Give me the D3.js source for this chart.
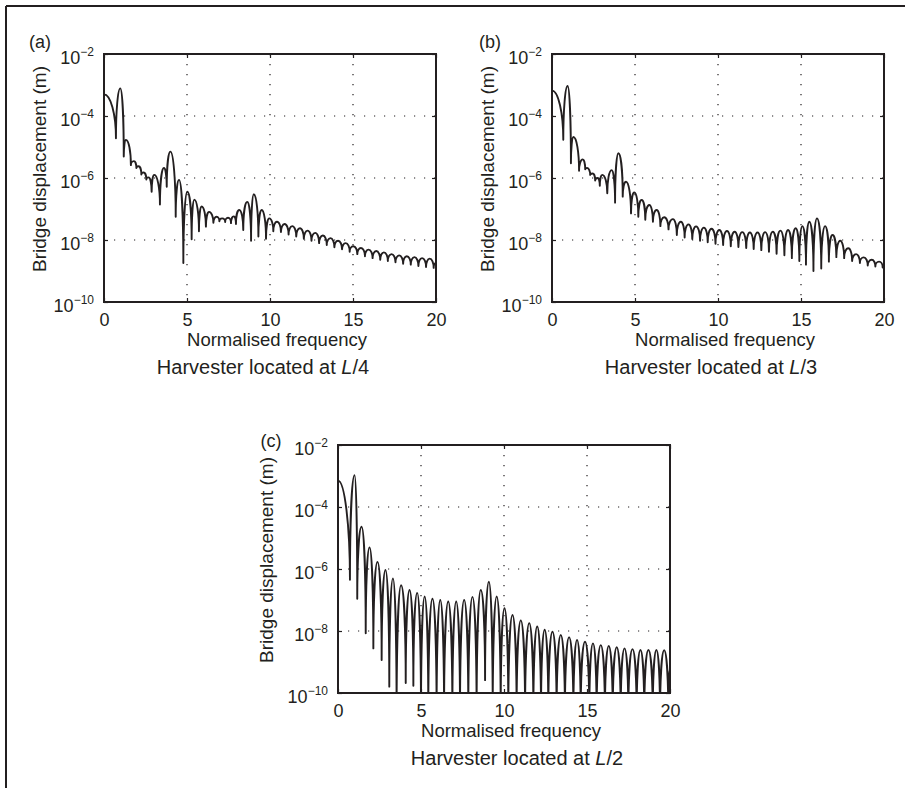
<!DOCTYPE html>
<html>
<head>
<meta charset="utf-8">
<script src="https://cdn.jsdelivr.net/npm/d3@7"></script>
<style>
  body { margin: 0; background: #fff; }
  svg { font-family: "Liberation Sans", Arial, Helvetica, sans-serif; }
</style>
</head>
<body>
<svg id="fig" width="905" height="788"></svg>
<script>
// axis ticks
var freqTicks = [0, 5, 10, 15, 20];
var decadeTicks = [1e-10, 1e-8, 1e-6, 1e-4, 1e-2];
var gridFreq = [5, 10, 15];
var gridDecades = [1e-8, 1e-6, 1e-4];

// (a) harvester at L/4 : local maxima and minima of the spectrum
var aPeakFreq = [0, 0.98, 1.32, 1.80, 2.08, 2.38, 2.68, 3.03, 3.61, 4.00,
  4.52, 5.02, 5.44, 5.88, 6.33, 6.79, 7.12, 7.47, 7.82, 8.15,
  8.63, 9.02, 9.50, 9.96, 10.42, 10.88, 11.34, 11.80, 12.26, 12.72,
  13.18, 13.64, 14.10, 14.56, 15.02, 15.48, 15.94, 16.40, 16.86, 17.32,
  17.78, 18.24, 18.70, 19.16, 19.62, 20.0];
var aPeakDisp = [5.0e-4, 7.8e-4, 1.7e-5, 3.5e-6, 2.4e-6, 1.5e-6, 1.05e-6, 1.26e-6, 2.1e-6, 7.1e-6,
  8.7e-7, 3.6e-7, 2.0e-7, 1.2e-7, 8.1e-8, 5.6e-8, 5.0e-8, 5.2e-8, 5.8e-8, 9.3e-8,
  1.7e-7, 3.0e-7, 9.3e-8, 5.0e-8, 3.9e-8, 3.3e-8, 2.8e-8, 2.4e-8, 2.0e-8, 1.7e-8,
  1.4e-8, 1.15e-8, 9.5e-9, 7.9e-9, 6.3e-9, 5.5e-9, 4.9e-9, 4.4e-9, 4.0e-9, 3.5e-9,
  3.2e-9, 3.0e-9, 2.8e-9, 2.6e-9, 2.5e-9, 1.8e-9];
var aDipFreq = [0.72, 1.19, 1.62, 1.95, 2.25, 2.55, 2.87, 3.37, 3.78,
  4.32, 4.78, 5.28, 5.72, 6.14, 6.59, 6.95, 7.30, 7.65, 7.95,
  8.39, 8.86, 9.30, 9.76, 10.20, 10.66, 11.12, 11.58, 12.04, 12.50,
  12.96, 13.42, 13.88, 14.34, 14.80, 15.26, 15.72, 16.18, 16.64, 17.10,
  17.56, 18.02, 18.48, 18.94, 19.40, 19.86];
var aDipDisp = [1.9e-5, 4.9e-6, 2.6e-6, 2.1e-6, 1.3e-6, 8.9e-7, 3.6e-7, 1.4e-7, 5.2e-7,
  5.6e-8, 1.8e-9, 1.05e-8, 1.9e-8, 2.7e-8, 3.6e-8, 4.0e-8, 3.8e-8, 3.5e-8, 3.3e-8,
  2.1e-8, 9.5e-9, 1.3e-8, 1.1e-8, 1.9e-8, 1.8e-8, 1.5e-8, 1.3e-8, 1.1e-8, 9.5e-9,
  7.9e-9, 6.9e-9, 5.8e-9, 5.0e-9, 4.2e-9, 3.5e-9, 3.0e-9, 2.6e-9, 2.3e-9, 2.1e-9,
  1.9e-9, 1.7e-9, 1.6e-9, 1.45e-9, 1.35e-9, 1.26e-9];

// (b) harvester at L/3
var bPeakFreq = [0, 0.94, 1.29, 1.85, 2.12, 2.44, 2.75, 3.03, 3.59, 4.00,
  4.46, 4.96, 5.40, 5.86, 6.30, 6.76, 7.28, 7.76, 8.22, 8.68,
  9.15, 9.61, 10.08, 10.54, 11.00, 11.46, 11.92, 12.38, 12.84, 13.30,
  13.76, 14.22, 14.68, 15.08, 15.50, 15.96, 16.45, 16.90, 17.36, 17.85,
  18.32, 18.78, 19.26, 19.70, 20.0];
var bPeakDisp = [6.6e-4, 9.3e-4, 2.1e-5, 4.0e-6, 2.1e-6, 1.4e-6, 1.0e-6, 1.26e-6, 1.8e-6, 6.3e-6,
  7.6e-7, 3.4e-7, 1.95e-7, 1.35e-7, 9.3e-8, 5.4e-8, 4.7e-8, 3.9e-8, 3.2e-8, 2.75e-8,
  2.5e-8, 2.3e-8, 2.1e-8, 1.95e-8, 1.85e-8, 1.8e-8, 1.75e-8, 1.75e-8, 1.8e-8, 1.85e-8,
  2.0e-8, 2.1e-8, 2.4e-8, 2.8e-8, 3.9e-8, 5.0e-8, 2.8e-8, 1.45e-8, 9.5e-9, 5.4e-9,
  3.5e-9, 2.75e-9, 2.3e-9, 2.0e-9, 1.6e-9];
var bDipFreq = [0.68, 1.14, 1.63, 2.00, 2.30, 2.60, 2.88, 3.33, 3.80, 4.26,
  4.76, 5.20, 5.62, 6.08, 6.53, 7.02, 7.52, 7.99, 8.45, 8.92,
  9.38, 9.85, 10.31, 10.77, 11.23, 11.70, 12.15, 12.61, 13.07, 13.53,
  14.00, 14.45, 14.90, 15.30, 15.75, 16.22, 16.68, 17.13, 17.60, 18.08,
  18.55, 19.02, 19.48, 19.92];
var bDipDisp = [1.7e-5, 3.0e-6, 1.7e-6, 1.9e-6, 1.26e-6, 8.3e-7, 5.6e-7, 3.2e-7, 1.6e-7, 2.5e-7,
  7.2e-8, 5.6e-8, 4.5e-8, 3.9e-8, 2.8e-8, 2.2e-8, 1.45e-8, 1.2e-8, 1.07e-8, 9.5e-9,
  8.5e-9, 7.6e-9, 6.9e-9, 6.3e-9, 5.9e-9, 5.5e-9, 5.1e-9, 4.7e-9, 4.2e-9, 3.6e-9,
  3.2e-9, 2.6e-9, 2.1e-9, 1.6e-9, 1.0e-9, 1.2e-9, 2.0e-9, 2.8e-9, 2.6e-9, 2.1e-9,
  1.8e-9, 1.5e-9, 1.4e-9, 1.3e-9];

// (c) harvester at L/2 (most minima fall below 1e-10)
var cPeakFreq = [0, 1.00, 1.42, 1.90, 2.38, 2.86, 3.31, 3.80, 4.31, 4.77,
  5.22, 5.69, 6.16, 6.64, 7.12, 7.60, 8.10, 8.60, 9.09, 9.56,
  10.03, 10.51, 11.01, 11.52, 12.00, 12.45, 12.92, 13.42, 13.92, 14.40,
  14.88, 15.36, 15.83, 16.31, 16.79, 17.26, 17.74, 18.22, 18.70, 19.18,
  19.65, 20.0];
var cPeakDisp = [7.1e-4, 1.07e-3, 2.3e-5, 5.0e-6, 1.7e-6, 9.3e-7, 5.0e-7, 3.0e-7, 2.1e-7, 1.7e-7,
  1.3e-7, 1.1e-7, 1.0e-7, 8.9e-8, 8.9e-8, 1.0e-7, 1.26e-7, 2.1e-7, 3.9e-7, 1.3e-7,
  5.4e-8, 3.3e-8, 2.2e-8, 1.8e-8, 1.4e-8, 1.1e-8, 9.5e-9, 7.4e-9, 6.3e-9, 5.1e-9,
  4.5e-9, 4.0e-9, 3.5e-9, 3.3e-9, 3.0e-9, 2.75e-9, 2.6e-9, 2.45e-9, 2.45e-9, 2.45e-9,
  2.4e-9, 6.3e-10];
var cDipFreq = [0.72, 1.16, 1.67, 2.13, 2.63, 3.09, 3.53, 4.08, 4.54, 5.00,
  5.44, 5.94, 6.39, 6.89, 7.35, 7.85, 8.35, 8.86, 9.32, 9.80,
  10.26, 10.76, 11.27, 11.77, 12.23, 12.67, 13.17, 13.67, 14.18, 14.62,
  15.14, 15.58, 16.08, 16.55, 17.03, 17.49, 17.99, 18.45, 18.96, 19.40,
  19.90];
var cDipDisp = [4.5e-7, 1.1e-7, 8.5e-9, 2.75e-9, 1.15e-9, 1.6e-10, 2e-11, 2.1e-10, 1.7e-10, 2e-11,
  2e-11, 2e-11, 2e-11, 2e-11, 2e-11, 2e-11, 2e-11, 2.6e-10, 2e-11, 2e-11,
  2e-11, 2e-11, 2e-11, 2e-11, 2e-11, 2e-11, 2e-11, 2e-11, 2e-11, 2e-11,
  2e-11, 2e-11, 2e-11, 2e-11, 2e-11, 2e-11, 2e-11, 2e-11, 2e-11, 2e-11,
  2e-11];

var ink = "#231f20";
var plotW = 332, plotH = 248;

var panels = [
  { id: "a", tag: "(a)", where: "4", left: 104, top: 54,
    peakF: aPeakFreq, peakV: aPeakDisp, dipF: aDipFreq, dipV: aDipDisp,
    tagX: 40, tagY: 48, yLabX: 46, xLabX: 277, titleX: 263 },
  { id: "b", tag: "(b)", where: "3", left: 552, top: 54,
    peakF: bPeakFreq, peakV: bPeakDisp, dipF: bDipFreq, dipV: bDipDisp,
    tagX: 490, tagY: 48, yLabX: 494, xLabX: 725, titleX: 711 },
  { id: "c", tag: "(c)", where: "2", left: 338, top: 445,
    peakF: cPeakFreq, peakV: cPeakDisp, dipF: cDipFreq, dipV: cDipDisp,
    tagX: 271, tagY: 447, yLabX: 273, xLabX: 511, titleX: 517 }
];

var svg = d3.select("#fig");

// figure frame (top and left edges)
svg.append("line").attr("x1", 6).attr("y1", 6).attr("x2", 905).attr("y2", 6)
  .attr("stroke", ink).attr("stroke-width", 2);
svg.append("line").attr("x1", 6).attr("y1", 6).attr("x2", 6).attr("y2", 788)
  .attr("stroke", ink).attr("stroke-width", 2);

// alternate peak / dip: flat over the peak, vertical into the dip
function lobePath(pts) {
  var k = 0.55;
  var p = d3.path();
  p.moveTo(pts[0][0], pts[0][1]);
  for (var i = 1; i < pts.length; i++) {
    var a = pts[i - 1], b = pts[i];
    if (a[2] === "peak") {
      p.bezierCurveTo(a[0] + k * (b[0] - a[0]), a[1], b[0], b[1] - k * (b[1] - a[1]), b[0], b[1]);
    } else {
      p.bezierCurveTo(a[0], a[1] + k * (b[1] - a[1]), b[0] - k * (b[0] - a[0]), b[1], b[0], b[1]);
    }
  }
  return p.toString();
}

panels.forEach(function (pn) {
  var x = d3.scaleLinear().domain([0, 20]).range([pn.left, pn.left + plotW]);
  var y = d3.scaleLog().domain([1e-10, 1e-2]).range([pn.top + plotH, pn.top]);
  var bottom = pn.top + plotH;

  var g = svg.append("g");

  g.append("clipPath").attr("id", "clip-" + pn.id)
    .append("rect").attr("x", pn.left).attr("y", pn.top)
    .attr("width", plotW).attr("height", plotH);

  // dotted grid
  g.selectAll("line.gx").data(gridFreq).enter().append("line")
    .attr("x1", function (d) { return x(d); }).attr("x2", function (d) { return x(d); })
    .attr("y1", pn.top).attr("y2", bottom)
    .attr("stroke", ink).attr("stroke-width", 1.2).attr("stroke-dasharray", "1.2,8.8");
  g.selectAll("line.gy").data(gridDecades).enter().append("line")
    .attr("y1", function (d) { return y(d); }).attr("y2", function (d) { return y(d); })
    .attr("x1", pn.left).attr("x2", pn.left + plotW)
    .attr("stroke", ink).attr("stroke-width", 1.2).attr("stroke-dasharray", "1.2,8.8");

  // spectrum
  var pts = [];
  pn.peakF.forEach(function (f, i) {
    pts.push([x(f), y(pn.peakV[i]), "peak"]);
    if (i < pn.dipF.length) pts.push([x(pn.dipF[i]), y(pn.dipV[i]), "dip"]);
  });
  g.append("path")
    .attr("d", lobePath(pts))
    .attr("clip-path", "url(#clip-" + pn.id + ")")
    .attr("fill", "none").attr("stroke", ink)
    .attr("stroke-width", 1.9).attr("stroke-linejoin", "round");

  // axes with inward ticks on all four sides
  var xb = g.append("g").attr("transform", "translate(0," + bottom + ")")
    .call(d3.axisBottom(x).tickValues(freqTicks).tickSizeInner(-4).tickSizeOuter(0).tickPadding(11));
  g.append("g").attr("transform", "translate(0," + pn.top + ")")
    .call(d3.axisTop(x).tickValues(freqTicks).tickSizeInner(-4).tickSizeOuter(0).tickFormat(""));
  var yl = g.append("g").attr("transform", "translate(" + pn.left + ",0)")
    .call(d3.axisLeft(y).tickValues(decadeTicks).tickSizeInner(-4).tickSizeOuter(0).tickPadding(10).tickFormat(""));
  g.append("g").attr("transform", "translate(" + (pn.left + plotW) + ",0)")
    .call(d3.axisRight(y).tickValues(decadeTicks).tickSizeInner(-4).tickSizeOuter(0).tickFormat(""));

  g.selectAll(".domain").remove();
  g.selectAll(".tick line").attr("stroke", ink).attr("stroke-width", 1.2);

  xb.attr("font-size", 18).attr("font-family", null);
  xb.selectAll(".tick text").attr("fill", ink);

  yl.attr("font-size", 18).attr("font-family", null);
  yl.selectAll(".tick text").attr("fill", ink).attr("dy", "0.52em")
    .each(function (d) {
      var t = d3.select(this);
      t.append("tspan").text("10");
      t.append("tspan").attr("dy", "-0.62em").attr("font-size", 12)
        .text("\u2212" + Math.abs(Math.round(Math.log10(d))));
    });

  // box
  g.append("rect").attr("x", pn.left).attr("y", pn.top)
    .attr("width", plotW).attr("height", plotH)
    .attr("fill", "none").attr("stroke", ink).attr("stroke-width", 2);

  // labels
  svg.append("text").attr("x", pn.tagX).attr("y", pn.tagY)
    .attr("text-anchor", "middle").attr("font-size", 18).attr("fill", ink).text(pn.tag);

  svg.append("text")
    .attr("transform", "translate(" + pn.yLabX + "," + (pn.top + plotH / 2 - 9) + ") rotate(-90)")
    .attr("text-anchor", "middle").attr("font-size", 19).attr("fill", ink)
    .text("Bridge displacement (m)");

  svg.append("text").attr("x", pn.xLabX).attr("y", bottom + 44)
    .attr("text-anchor", "middle").attr("font-size", 18.5).attr("fill", ink)
    .text("Normalised frequency");

  var tt = svg.append("text").attr("x", pn.titleX).attr("y", bottom + 72)
    .attr("text-anchor", "middle").attr("font-size", 20).attr("fill", ink);
  tt.append("tspan").text("Harvester located at ");
  tt.append("tspan").attr("font-style", "italic").text("L");
  tt.append("tspan").text("/" + pn.where);
});
</script>
</body>
</html>
